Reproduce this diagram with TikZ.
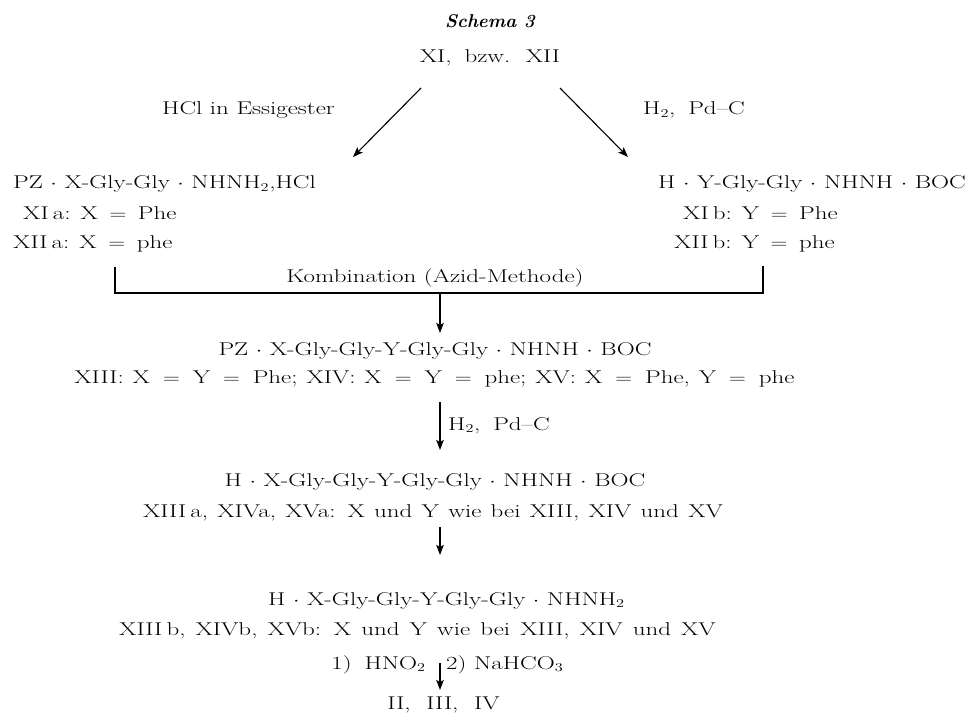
\documentclass[tikz,border=0pt]{standalone}
\usetikzlibrary{arrows.meta}
% the upright text is set in a wide cut: stretch it horizontally
\newcommand\stretchtxt[1]{\scalebox{1.35}[1]{#1}}
% a wider gap after a comma in short lists
\newcommand\lsp{\hspace{4pt} }
% equals sign with the roomy spacing of the print
\newcommand\eq{\hspace{3pt}$=$\hspace{3pt} }
\begin{document}
\begin{tikzpicture}[x=1pt,y=-1pt,
  txt/.style={inner sep=0pt, font=\fontsize{18.5}{22}\selectfont},
  bl/.style={txt, anchor=base west},
  bc/.style={txt, anchor=base},
  be/.style={txt, anchor=base east},
  arr/.style={line width=1.1pt, -{Stealth[length=10pt,width=7.5pt,inset=2pt]}},
  brk/.style={line width=1.1pt}]
\useasboundingbox (0,0) rectangle (971,714);

% heading and starting material
\node[bc, font=\fontsize{18.5}{22}\selectfont\bfseries\itshape] (title) at (490,28) {Schema 3};
\node[bc] (start) at (490,63) {\stretchtxt{XI,\lsp bzw.\lsp XII}};

% reagents for the two branches
\node[bl] (lcond) at (162,115) {\stretchtxt{HCl in Essigester}};
\node[bl] (rcond) at (643,115) {\stretchtxt{H$_2$,\lsp Pd--C}};

% left branch product
\node[bl] (la)  at (13,189) {\stretchtxt{PZ $\cdot$ X-Gly-Gly $\cdot$ NHNH$_2$,HCl}};
\node[bl] (la1) at (23,219) {\stretchtxt{XI\,a: X \eq Phe}};
\node[bl] (la2) at (13,248) {\stretchtxt{XII\,a: X \eq phe}};

% right branch product
\node[bl] (rb)  at (658,189) {\stretchtxt{H $\cdot$ Y-Gly-Gly $\cdot$ NHNH $\cdot$ BOC}};
\node[bl] (rb1) at (683,219) {\stretchtxt{XI\,b: Y \eq Phe}};
\node[bl] (rb2) at (674,248) {\stretchtxt{XII\,b: Y \eq phe}};

% coupling
\node[bc] (komb) at (435,282) {\stretchtxt{Kombination (Azid-Methode)}};

\node[bc] (p1)  at (435,355) {\stretchtxt{PZ $\cdot$ X-Gly-Gly-Y-Gly-Gly $\cdot$ NHNH $\cdot$ BOC}};
\node[bc] (p1v) at (434.5,383) {\stretchtxt{\spaceskip=6.6pt plus 2pt\relax
  XIII: X \eq Y \eq Phe; XIV: X \eq Y \eq phe; XV: X \eq Phe, Y \eq phe}};

\node[bl] (h2b) at (448,430) {\stretchtxt{H$_2$,\lsp Pd--C}};

\node[bc] (p2)  at (435,486) {\stretchtxt{H $\cdot$ X-Gly-Gly-Y-Gly-Gly $\cdot$ NHNH $\cdot$ BOC}};
\node[bc] (p2v) at (433,517) {\stretchtxt{\spaceskip=6.9pt plus 2pt\relax
  XIII\,a, XIVa, XVa: X und Y wie bei XIII, XIV und XV}};

\node[bc] (p3)  at (446.5,605) {\stretchtxt{H $\cdot$ X-Gly-Gly-Y-Gly-Gly $\cdot$ NHNH$_2$}};
\node[bc] (p3v) at (417.5,635) {\stretchtxt{\spaceskip=7.5pt plus 2pt\relax
  XIII\,b, XIVb, XVb: X und Y wie bei XIII, XIV und XV}};

\node[be] (r1) at (426,669) {\stretchtxt{1)\hspace{4pt} HNO$_2$}};
\node[bl] (r2) at (446,669) {\stretchtxt{2) NaHCO$_3$}};

\node[bc] (final) at (443.5,709) {\stretchtxt{II,\lsp\hspace{2pt}III,\lsp\hspace{2pt}IV}};

% arrow end points
\coordinate (a1s) at (421,88);  \coordinate (a1e) at (353,157);
\coordinate (a2s) at (560,88);  \coordinate (a2e) at (628,157);
\coordinate (bL) at (115,267);  \coordinate (bR) at (763,266);
\coordinate (bM) at (440,293);  \coordinate (a3e) at (440,333);
\coordinate (a4s) at (440,402); \coordinate (a4e) at (440,450);
\coordinate (a5s) at (440,527); \coordinate (a5e) at (440,555);
\coordinate (a6s) at (440,663); \coordinate (a6e) at (440,690);

\draw[arr] (a1s) -- (a1e);
\draw[arr] (a2s) -- (a2e);
\draw[brk] (bL) |- (bM) -| (bR);
\draw[arr] (bM) -- (a3e);
\draw[arr] (a4s) -- (a4e);
\draw[arr] (a5s) -- (a5e);
\draw[arr] (a6s) -- (a6e);
\end{tikzpicture}
\end{document}
